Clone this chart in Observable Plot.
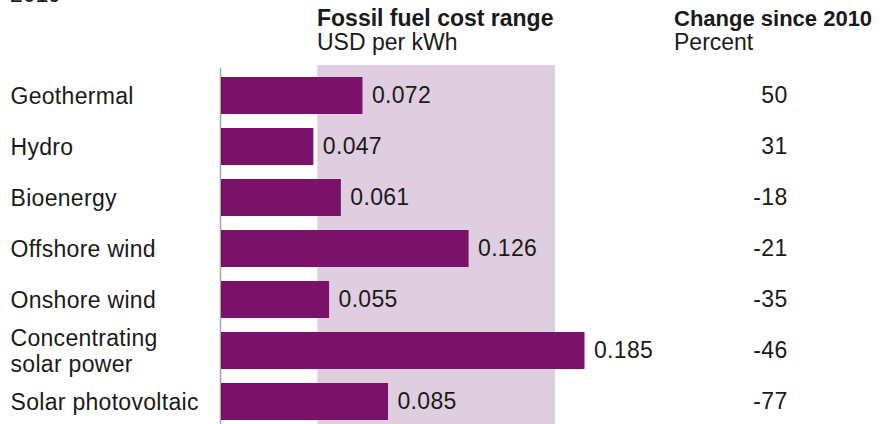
<!DOCTYPE html>
<html>
<head>
<meta charset="utf-8">
<script src="https://cdn.jsdelivr.net/npm/d3@7"></script>
<script src="https://cdn.jsdelivr.net/npm/@observablehq/plot@0.6"></script>
<style>
  html, body { margin: 0; padding: 0; background: #fff; }
  body { width: 891px; height: 424px; overflow: hidden; font-family: "Liberation Sans", Arial, sans-serif; color: #1a1a1a; }
  #head { position: relative; height: 62px; }
  .t { position: absolute; font-size: 23px; line-height: 23px; white-space: nowrap; }
  .b { font-weight: bold; }
  #chart svg { display: block; }
  #chart svg text { letter-spacing: 0.3px; }
</style>
</head>
<body>
<div id="head">
  <div class="t" style="left:10px; top:-17px;">2019</div>
  <div class="t b" style="left:317px; top:7px;">Fossil fuel cost range</div>
  <div class="t" style="left:317px; top:31px;">USD per kWh</div>
  <div class="t b" style="left:674px; top:7px; font-size:22px;">Change since 2010</div>
  <div class="t" style="left:674px; top:31px;">Percent</div>
</div>
<div id="chart"></div>
<script>
const categories = ["Geothermal", "Hydro", "Bioenergy", "Offshore wind", "Onshore wind", "Concentrating solar power", "Solar photovoltaic"];
const categoryLabels = ["Geothermal", "Hydro", "Bioenergy", "Offshore wind", "Onshore wind", "Concentrating\nsolar power", "Solar photovoltaic"];
const costs = [0.072, 0.047, 0.061, 0.126, 0.055, 0.185, 0.085];
const changes = [50, 31, -18, -21, -35, -46, -77];
const fossilRange = [0.049, 0.17];

const rows = categories.map((c, i) => ({category: c, label: categoryLabels[i], cost: costs[i], change: changes[i]}));
const font = "Liberation Sans, Arial, sans-serif";

const chart = Plot.plot({
  width: 891,
  height: 362,
  marginTop: 0, marginRight: 0, marginBottom: 0, marginLeft: 0,
  x: {domain: [0, 0.2], range: [221, 614], axis: null},
  y: {domain: categories, range: [13, 360], paddingInner: 0.284, paddingOuter: 0, axis: null},
  style: {fontFamily: font, fontSize: "23px", color: "#1a1a1a", background: "#fff"},
  marks: [
    Plot.rect([fossilRange], {x1: d => d[0], x2: d => d[1], fill: "#dfcde0", insetTop: 3}),
    Plot.ruleX([0], {stroke: "#a6a6a6", strokeWidth: 1.5, dx: -1, insetTop: 6}),
    Plot.barX(rows, {x: "cost", y: "category", fill: "#7a1269"}),
    Plot.text(rows, {x: "cost", y: "category", text: d => d3.format(".3f")(d.cost), textAnchor: "start", dx: 9, fill: "#1a1a1a", fontSize: 23, fontFamily: font}),
    Plot.text(rows, {y: "category", text: "label", frameAnchor: "left", textAnchor: "start", dx: 10, lineHeight: 1.1, fill: "#1a1a1a", fontSize: 23, fontFamily: font}),
    Plot.text(rows, {y: "category", text: d => String(d.change), frameAnchor: "right", textAnchor: "end", dx: -104, fill: "#1a1a1a", fontSize: 23, fontFamily: font})
  ]
});
document.getElementById("chart").append(chart);
</script>
</body>
</html>
